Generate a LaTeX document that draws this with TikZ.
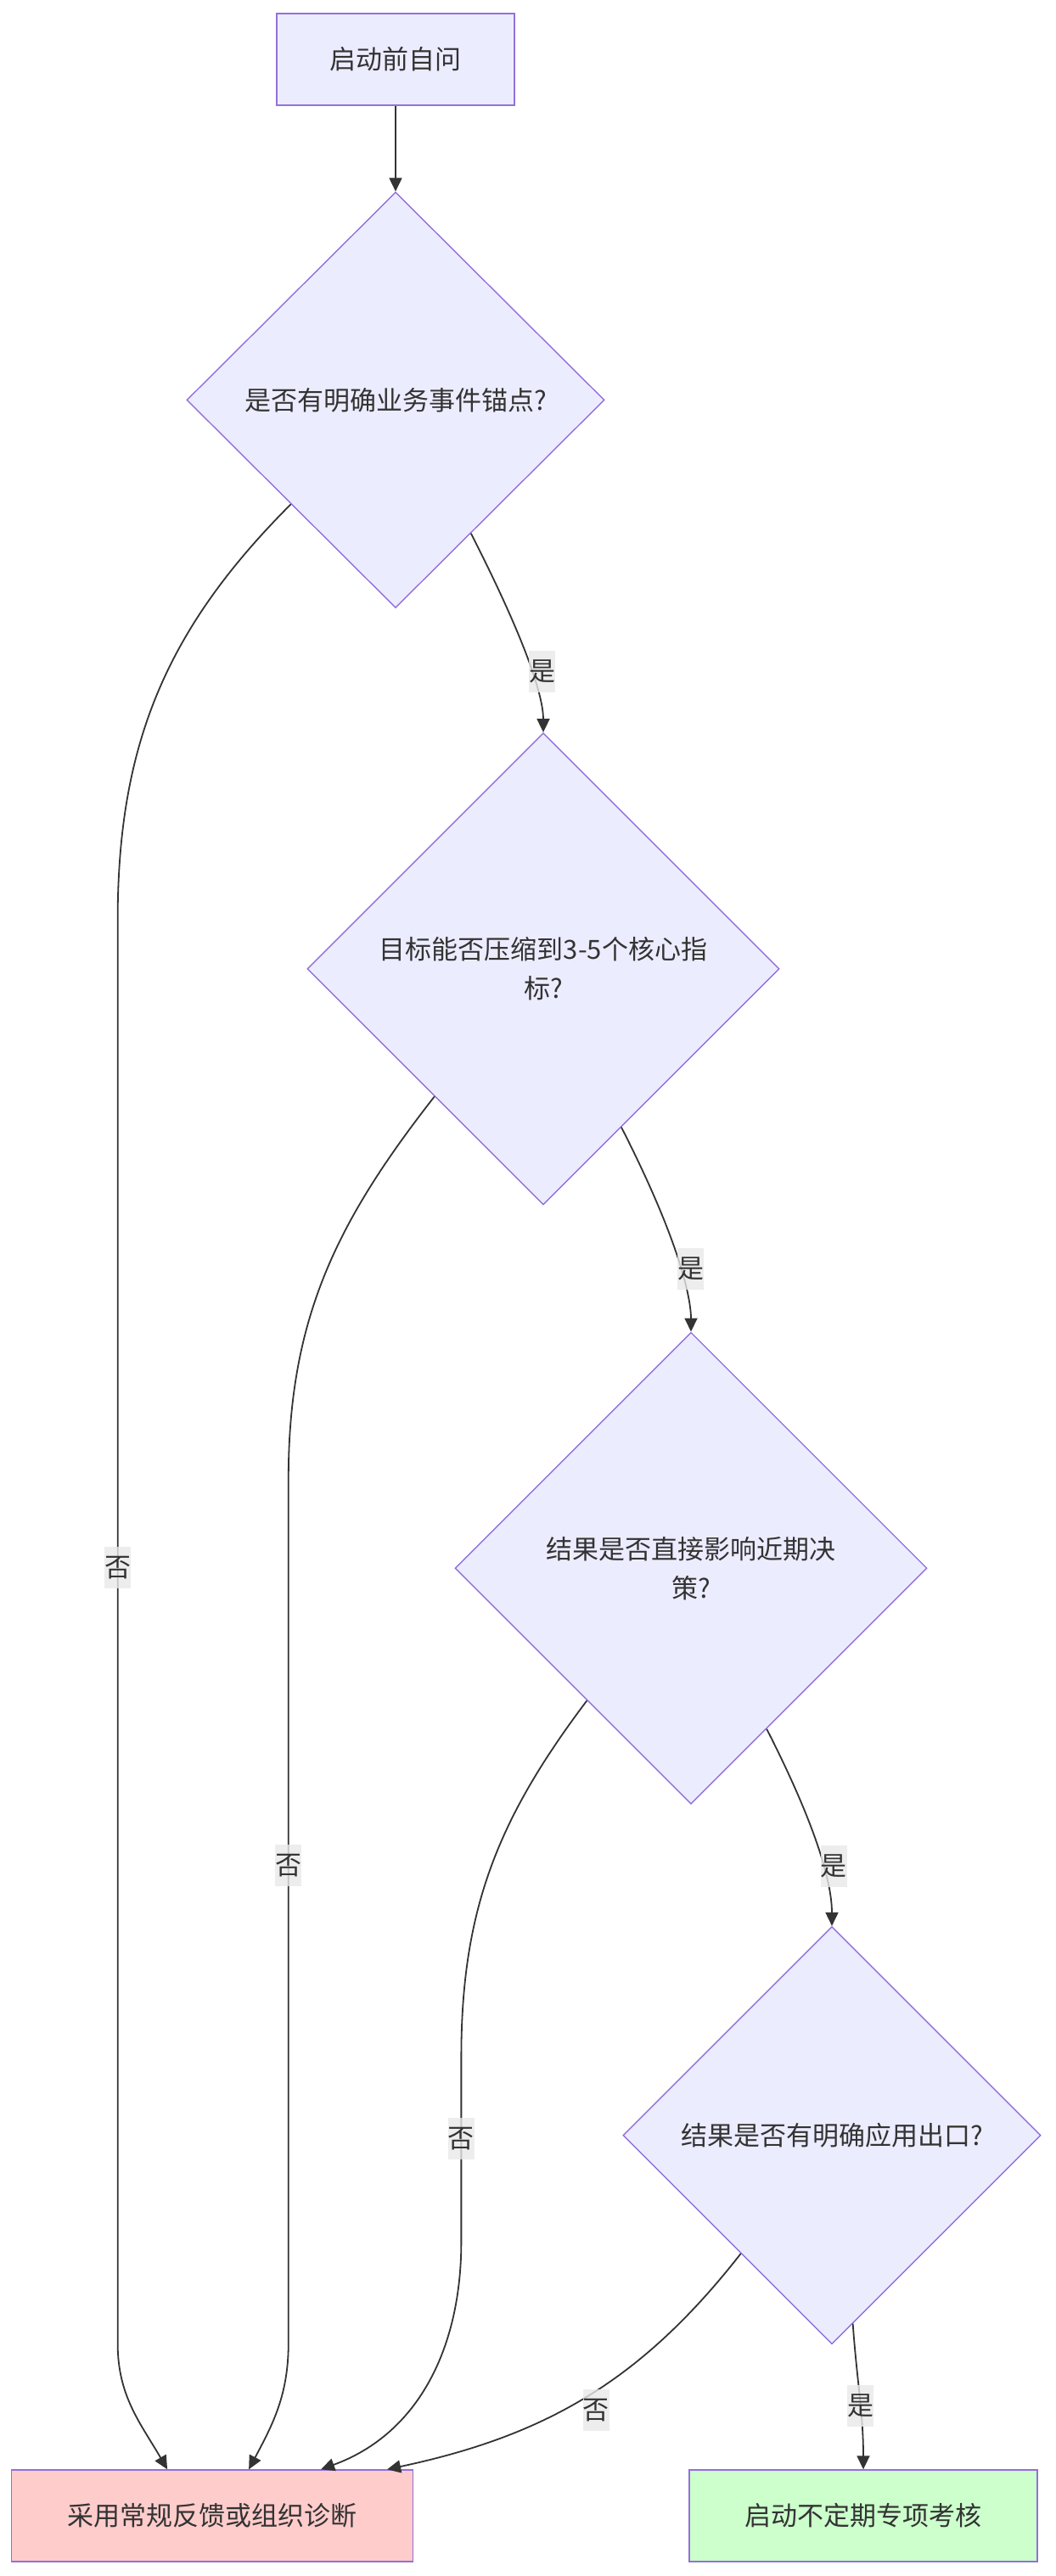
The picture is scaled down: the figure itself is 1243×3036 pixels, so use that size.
\documentclass[tikz,border=0pt]{standalone}
\usepackage{fontspec}
\setmainfont{Noto Sans CJK SC}
\usepackage{tikz}
\usetikzlibrary{shapes.geometric, arrows.meta, positioning, calc}
\definecolor{nodefill}{HTML}{ECECFF}
\definecolor{nodeline}{HTML}{9370DB}
\definecolor{nofill}{HTML}{FFCCCC}
\definecolor{yesfill}{HTML}{CCFFCC}
\definecolor{ink}{HTML}{333333}
\definecolor{lblfill}{HTML}{E8E8E8}

\begin{document}
\begin{tikzpicture}[
  x=0.5pt, y=0.5pt,
  font=\fontsize{15.5pt}{23pt}\selectfont, text=ink,
  stepbox/.style={rectangle, draw=nodeline, line width=0.7pt, fill=nodefill, minimum height=54pt, inner sep=0pt, align=center},
  check/.style={diamond, draw=nodeline, line width=0.7pt, fill=nodefill, aspect=1, inner sep=0pt, align=center},
  lbl/.style={fill=lblfill, fill opacity=0.8, text opacity=1, inner xsep=0pt, inner ysep=0pt, minimum height=24.5pt, minimum width=15.5pt},
  arr/.style={-{Triangle[length=8pt, width=7.5pt]}, line width=0.9pt, draw=ink}
]
\useasboundingbox (0,0) rectangle (1243,-3036);

\node[stepbox, minimum width=140pt] (start) at (466,-70) {启动前自问};
\node[check, minimum width=246pt, minimum height=245pt, below=50.5pt of start] (q1) {是否有明确业务事件锚点?};
\node[check, minimum width=278pt, minimum height=278pt, below=73pt of q1, xshift=87pt] (q2) {目标能否压缩到3-5个核心指\\标?};
\node[check, minimum width=278pt, minimum height=278pt, below=74.5pt of q2, xshift=87pt] (q3) {结果是否直接影响近期决\\策?};
\node[check, minimum width=246pt, minimum height=246pt, below=71.5pt of q3, xshift=83pt] (q4) {结果是否有明确应用出口?};
\node[stepbox, fill=yesfill, minimum width=205pt, below=73.5pt of q4, xshift=18.5pt] (audit) {启动不定期专项考核};
\node[stepbox, fill=nofill, minimum width=236.5pt, left=162pt of audit] (routine) {采用常规反馈或组织诊断};

\draw[arr] (start) -- (q1);
\draw[arr] ($(q1.south)!0.36!(q1.east)$) .. controls +(-63:150) and +(90:40) .. node[lbl, pos=0.55, xshift=6pt] (y1) {是} (q2.north);
\draw[arr] ($(q2.south)!0.33!(q2.east)$) .. controls +(-63:150) and +(90:40) .. node[lbl, pos=0.55, xshift=6pt] (y2) {是} (q3.north);
\draw[arr] ($(q3.south)!0.32!(q3.east)$) .. controls +(-63:150) and +(90:40) .. node[lbl, pos=0.55, xshift=6pt] (y3) {是} (q4.north);
\draw[arr] ($(q4.south)!0.1!(q4.east)$) to[out=-86, in=90] node[lbl, pos=0.57] (y4) {是} (audit.north);

\draw[arr] (q1.south west) to[out=-135, in=90] ++(-204,-490) -- node[lbl, pos=0.455] (n1) {否} ++(0,-1678) to[out=-90, in=120] ([xshift=-26.5pt]routine.north);
\draw[arr] ($(q2.south)!0.46!(q2.west)$) to[out=-128, in=90] ++(-172,-451) -- node[lbl, pos=0.447] (n2) {否} ++(0,-1018) to[out=-90, in=62] ([xshift=21.5pt]routine.north);
\draw[arr] ($(q3.south)!0.44!(q3.west)$) to[out=-127, in=90] ++(-148,-420) -- node[lbl, pos=0.44] (n3) {否} ++(0,-218) to[out=-90, in=20] ([xshift=64pt]routine.north);
\draw[arr] ($(q4.south)!0.435!(q4.west)$) to[out=-128, in=12] node[lbl, pos=0.47, yshift=-11.5pt] (n4) {否} ([xshift=103pt]routine.north);
\end{tikzpicture}
\end{document}
